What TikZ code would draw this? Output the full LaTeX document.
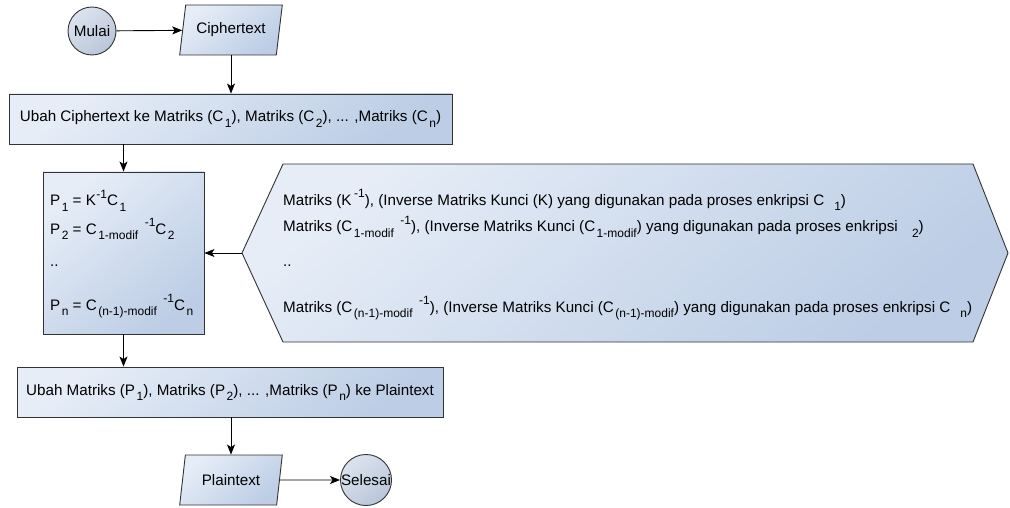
\documentclass[tikz,border=0pt]{standalone}
\usepackage{fontspec}
\setmainfont{Liberation Sans}
\usetikzlibrary{shapes.geometric,arrows.meta}
\newcommand{\sbx}[1]{\kern1.5pt\raisebox{-0.33em}{\fontsize{12}{12}\selectfont #1}}
\newcommand{\spx}[1]{\kern0.5pt\raisebox{0.48em}{\fontsize{12}{12}\selectfont #1}}
\definecolor{flight}{HTML}{E6EDF7}
\definecolor{fdark}{HTML}{BCCDE5}
\definecolor{clight}{HTML}{DCE3EE}
\definecolor{cdark}{HTML}{B9C6D9}
\definecolor{edgec}{HTML}{333333}
\tikzset{
  fillstyle/.style={top color=flight, bottom color=fdark, shading angle=40},
  procbox/.style={draw=edgec, line width=0.9pt, fillstyle, rectangle, inner sep=0pt},
  termnode/.style={draw=edgec, line width=0.9pt, circle, top color=clight, bottom color=cdark, shading angle=40, minimum size=48pt, inner sep=0pt},
  ionode/.style={draw=edgec, line width=0.9pt, fillstyle, trapezium, trapezium left angle=72, trapezium right angle=108, trapezium stretches=true, minimum width=103pt, minimum height=50pt, inner sep=0pt},
  txt/.style={font=\fontsize{15.2}{17}\selectfont, inner sep=0pt},
  linetxt/.style={txt, anchor=base west},
  conn/.style={draw=black, line width=0.9pt, -{Stealth[length=10pt,width=8pt,inset=2.5pt]}}
}
\begin{document}
\begin{tikzpicture}[x=1pt,y=-1pt]
\useasboundingbox (0,0) rectangle (1010,508);
\fill[white] (0,0) rectangle (1010,508);
% terminals and io
\node[termnode, txt] (mulai) at (92,31) {Mulai};
\node[ionode, txt] (cipher) at (231,30) {Ciphertext};
% box 1
\node[procbox, txt, minimum width=443pt, minimum height=50pt] (b1) at (230.5,119)
  {Ubah Ciphertext ke Matriks (C\sbx{1}), Matriks (C\sbx{2}), ... ,Matriks (C\sbx{n})};
% box P
\node[procbox, minimum width=161pt, minimum height=162pt] (bp) at (123.5,253) {};
\node[linetxt] (p1) at (50,206) {P\sbx{1} = K\spx{-1}C\sbx{1}};
\node[linetxt] (p2) at (50,234) {P\sbx{2} = C\sbx{1-modif}\kern6pt\spx{-1}C\sbx{2}};
\node[linetxt] (p3) at (50,266) {..};
\node[linetxt] (p4) at (50,310) {P\sbx{n} = C\sbx{(n-1)-modif}\kern6pt\spx{-1}C\sbx{n}};
% hexagon
\coordinate (hexL) at (242,253);
\draw[draw=edgec, line width=0.9pt, fillstyle] (hexL) -- (283,164) -- (973,164) -- (1008,253) -- (973,342) -- (283,342) -- cycle;
\node[linetxt] (h1) at (283,205) {Matriks (K\kern2pt\spx{-1}), (Inverse Matriks Kunci (K) yang digunakan pada proses enkripsi C \ \sbx{1})};
\node[linetxt] (h2) at (283,232) {Matriks (C\sbx{1-modif}\kern6pt\spx{-1}), (Inverse Matriks Kunci (C\sbx{1-modif}) yang digunakan pada proses enkripsi \ \ \sbx{2})};
\node[linetxt] (h3) at (283,266) {..};
\node[linetxt] (h4) at (283,312) {Matriks (C\sbx{(n-1)-modif}\kern6pt\spx{-1}), (Inverse Matriks Kunci (C\sbx{(n-1)-modif}) yang digunakan pada proses enkripsi C \ \sbx{n})};
% box 2
\node[procbox, txt, minimum width=426pt, minimum height=50pt] (b2) at (230,392)
  {Ubah Matriks (P\sbx{1}), Matriks (P\sbx{2}), ... ,Matriks (P\sbx{n}) ke Plaintext};
\node[ionode, txt] (plain) at (231,480) {Plaintext};
\node[termnode, txt] (selesai) at (366,480) {Selesai};
% connectors
\draw[conn] (mulai) -- (cipher);
\draw[conn] (cipher.south) -- (cipher.south |- b1.north);
\draw[conn] (bp.north |- b1.south) -- (bp.north);
\draw[conn] (hexL) -- (bp.east);
\draw[conn] (bp.south) -- (bp.south |- b2.north);
\draw[conn] (plain.north |- b2.south) -- (plain.north);
\draw[conn] (plain) -- (selesai);
\end{tikzpicture}
\end{document}
